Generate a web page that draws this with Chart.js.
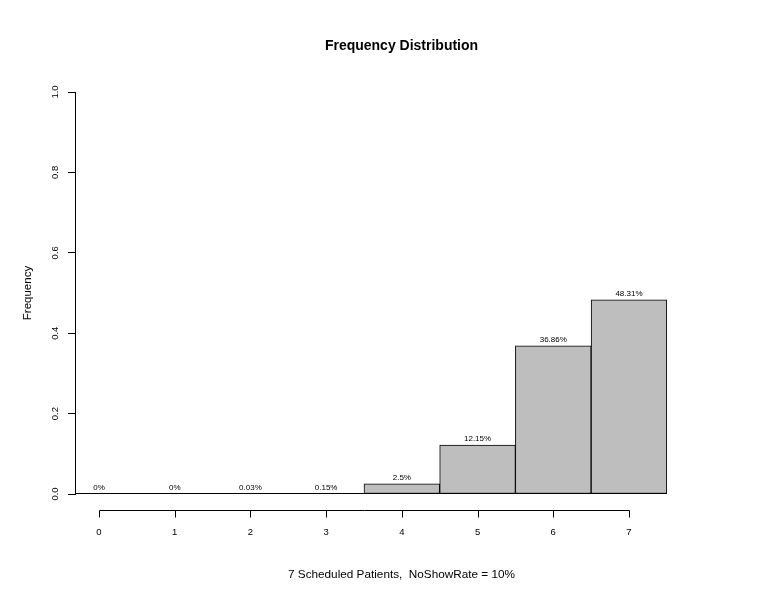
<!DOCTYPE html>
<html>
<head>
<meta charset="utf-8">
<script src="https://cdn.jsdelivr.net/npm/chart.js@4.4.1/dist/chart.umd.min.js"></script>
<style>
  html, body { margin: 0; padding: 0; background: #fff; }
  #wrap { width: 776px; height: 600px; }
</style>
</head>
<body>
<div id="wrap"><canvas id="c" width="776" height="600"></canvas></div>
<script>
// ---- data ----
const categories = [0, 1, 2, 3, 4, 5, 6, 7];
const xLabels = ["0", "1", "2", "3", "4", "5", "6", "7"];
const frequencies = [0, 0, 0.0003, 0.0015, 0.025, 0.1215, 0.3686, 0.4831];
const yTicks = [0, 0.2, 0.4, 0.6, 0.8, 1.0];
const chartTitle = "Frequency Distribution";
const xTitle = "7 Scheduled Patients,  NoShowRate = 10%";
const yTitle = "Frequency";

const FONT = '"Liberation Sans", Arial, Helvetica, sans-serif';
Chart.defaults.font.family = FONT;
Chart.defaults.color = '#000';

function pctLabel(v) {
  return parseFloat((v * 100).toFixed(2)) + '%';
}

const barLabelPlugin = {
  id: 'barLabels',
  afterDatasetsDraw(chart) {
    const ctx = chart.ctx;
    const meta = chart.getDatasetMeta(0);
    const yScale = chart.scales.y;
    const base = Math.round(yScale.getPixelForValue(0)) - 0.5;
    const first = meta.data[0], last = meta.data[meta.data.length - 1];
    ctx.save();
    // baseline under zero-height bars
    ctx.strokeStyle = '#000';
    ctx.lineWidth = 1;
    ctx.beginPath();
    ctx.moveTo(Math.max(first.x - first.width / 2, chart.chartArea.left), base);
    ctx.lineTo(last.x + last.width / 2, base);
    ctx.stroke();
    ctx.font = '8px ' + FONT;
    ctx.fillStyle = '#000';
    ctx.textAlign = 'center';
    ctx.textBaseline = 'middle';
    meta.data.forEach((bar, i) => {
      const top = yScale.getPixelForValue(frequencies[i]);
      ctx.fillText(pctLabel(frequencies[i]), bar.x, top - 6);
    });
    ctx.restore();
  }
};

const xAxisPlugin = {
  id: 'detachedXAxis',
  afterDraw(chart) {
    const ctx = chart.ctx;
    const xs = chart.scales.x;
    const y = Math.round(chart.chartArea.bottom + 16) + 0.5;
    const x0 = Math.round(xs.getPixelForValue(categories[0])) + 0.5;
    const x1 = Math.round(xs.getPixelForValue(categories[categories.length - 1])) + 0.5;
    ctx.save();
    ctx.strokeStyle = '#000';
    ctx.lineWidth = 1;
    ctx.beginPath();
    ctx.moveTo(x0, y);
    ctx.lineTo(x1, y);
    categories.forEach(c => {
      const px = Math.round(xs.getPixelForValue(c)) + 0.5;
      ctx.moveTo(px, y);
      ctx.lineTo(px, y + 7);
    });
    ctx.stroke();
    ctx.restore();
  }
};

new Chart(document.getElementById('c'), {
  type: 'bar',
  data: {
    datasets: [{
      data: categories.map((c, i) => ({ x: c, y: frequencies[i] })),
      backgroundColor: '#bebebe',
      borderColor: '#000',
      borderWidth: 1,
      borderSkipped: false,
      barPercentage: 1,
      categoryPercentage: 1
    }]
  },
  options: {
    responsive: false,
    animation: false,
    devicePixelRatio: 1,
    layout: { padding: { left: 0, right: 48, top: 0, bottom: 0 } },
    plugins: {
      legend: { display: false },
      tooltip: { enabled: false },
      title: {
        display: true,
        text: chartTitle,
        fullSize: false,
        font: { size: 14, weight: 'bold', family: FONT },
        color: '#000',
        padding: { top: 37.6, bottom: 37.6 }
      }
    },
    scales: {
      x: {
        type: 'linear',
        offset: false,
        min: -0.317,
        max: 8.308,
        afterBuildTicks(scale) {
          scale.ticks = categories.map(v => ({ value: v }));
        },
        afterFit(scale) { scale.height = 106; },
        ticks: {
          autoSkip: false,
          padding: 32.8,
          font: { size: 9.5, family: FONT },
          color: '#000',
          maxRotation: 0,
          minRotation: 0,
          callback(value) {
            const i = categories.indexOf(value);
            return i >= 0 ? xLabels[i] : '';
          }
        },
        grid: { display: false, drawTicks: false, offset: false },
        border: { display: false },
        title: {
          display: true,
          text: xTitle,
          font: { size: 11.75, family: FONT },
          color: '#000',
          padding: { top: 0, bottom: 18 }
        }
      },
      y: {
        type: 'linear',
        min: 0,
        max: 1,
        afterBuildTicks(scale) {
          scale.ticks = yTicks.map(v => ({ value: v }));
        },
        afterFit(scale) { scale.width = 75; },
        ticks: {
          autoSkip: false,
          minRotation: 90,
          maxRotation: 90,
          crossAlign: 'center',
          padding: 6,
          font: { size: 9.5, family: FONT },
          color: '#000',
          callback(value) { return Number(value).toFixed(1); }
        },
        grid: {
          display: true,
          drawOnChartArea: false,
          drawTicks: true,
          tickLength: 7,
          color: '#000',
          lineWidth: 1
        },
        border: { display: true, color: '#000', width: 1 },
        title: {
          display: true,
          text: yTitle,
          font: { size: 11.5, family: FONT },
          color: '#000',
          padding: { top: 21, bottom: 0 }
        }
      }
    }
  },
  plugins: [barLabelPlugin, xAxisPlugin]
});
</script>
</body>
</html>
